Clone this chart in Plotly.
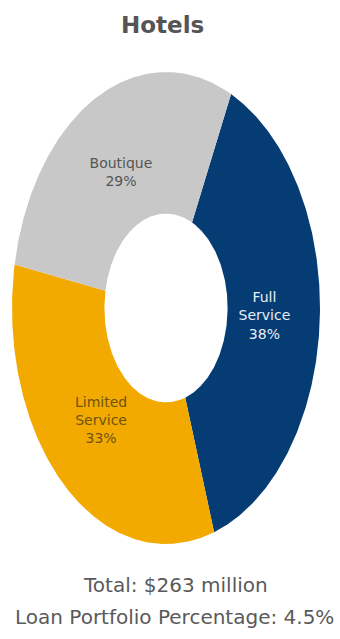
import numpy as np
import plotly.graph_objects as go

# Hotel loan segments
segments = ["Full Service", "Limited Service", "Boutique"]
label_lines = ["Full<br>Service", "Limited<br>Service", "Boutique"]
shares = [38, 33, 29]
colors = ["#053C73", "#F2AA00", "#C8C8C8"]
text_colors = ["#E8EEF5", "#6E5410", "#555555"]

title_text = "Hotels"
total_text = "Total: $263 million"
portfolio_text = "Loan Portfolio Percentage: 4.5%"

# Ring geometry (unit radius; the plot area's aspect stretches it vertically)
HOLE = 0.40
ROTATION_DEG = 25.0
LABEL_RADIUS = 0.64

fig = go.Figure()

total = float(sum(shares))
start = np.radians(ROTATION_DEG)
label_x, label_y, label_txt = [], [], []
for name, lines, val, col in zip(segments, label_lines, shares, colors):
    span = 2 * np.pi * val / total
    t = np.linspace(start, start + span, 240)
    # outer arc clockwise, inner arc back
    xs = np.concatenate([np.sin(t), HOLE * np.sin(t[::-1])])
    ys = np.concatenate([np.cos(t), HOLE * np.cos(t[::-1])])
    fig.add_trace(go.Scatter(
        x=np.append(xs, xs[0]), y=np.append(ys, ys[0]),
        mode="lines", fill="toself", fillcolor=col,
        line=dict(width=0, color=col), hoverinfo="skip",
        name=name, showlegend=False,
    ))
    mid = start + span / 2
    label_x.append(LABEL_RADIUS * np.sin(mid))
    label_y.append(LABEL_RADIUS * np.cos(mid))
    label_txt.append(f"{lines}<br>{val}%")
    start += span

fig.add_trace(go.Scatter(
    x=label_x, y=label_y, text=label_txt, mode="text",
    textposition="middle center",
    textfont=dict(family="DejaVu Sans", size=14, color=text_colors),
    hoverinfo="skip", showlegend=False,
))

fig.add_annotation(
    text=f"<b>{title_text}</b>", xref="paper", yref="paper",
    x=0.5, y=1.0, xshift=-4, yshift=47, showarrow=False,
    xanchor="center", yanchor="middle",
    font=dict(family="DejaVu Sans", size=23, color="#555555"),
)
fig.add_annotation(
    text=total_text, xref="paper", yref="paper",
    x=0.5, y=0.0, xshift=9, yshift=-41, showarrow=False,
    xanchor="center", yanchor="middle",
    font=dict(family="DejaVu Sans", size=20, color="#5A5A5A"),
)
fig.add_annotation(
    text=portfolio_text, xref="paper", yref="paper",
    x=0.5, y=0.0, xshift=8, yshift=-73, showarrow=False,
    xanchor="center", yanchor="middle",
    font=dict(family="DejaVu Sans", size=20, color="#5A5A5A"),
)

axis_style = dict(range=[-1, 1], visible=False, fixedrange=True)
fig.update_layout(
    width=340, height=639,
    margin=dict(l=12, r=20, t=72, b=95),
    paper_bgcolor="white", plot_bgcolor="white",
    xaxis=axis_style, yaxis=axis_style,
    showlegend=False,
)

fig.write_html("out.html", config={"displayModeBar": False})
